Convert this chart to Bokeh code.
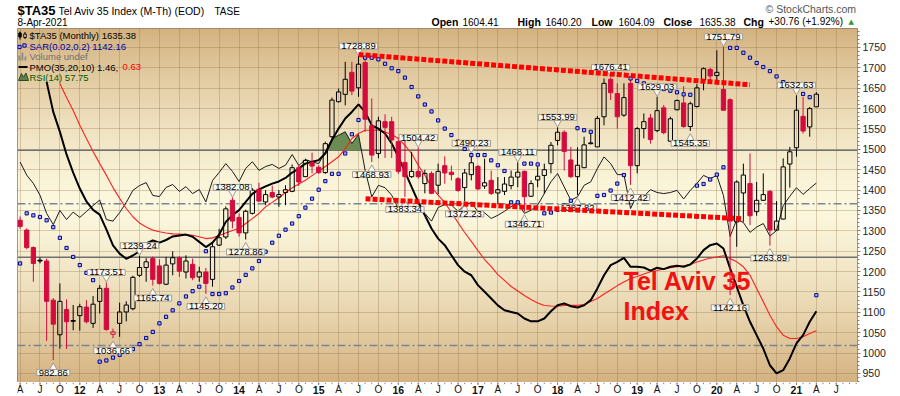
import numpy as np
from bokeh.plotting import figure
from bokeh.layouts import column
from bokeh.models import Range1d, FixedTicker, Span, Label, ColumnDataSource, Grid
from bokeh.core.properties import value
from bokeh.embed import file_html
from bokeh.resources import INLINE

nan = float("nan")

# ---------------- data (monthly, index 0 = Apr 2011 ... 120 = Apr 2021) ----------------
months = list(range(121))
open_ = [1326,1302,1259,1228,1226,1130,1045,1107,1078,1092,
         1113,1073,1127,1159,1046,1073,1101,1109,1191,1210,
         1232,1214,1169,1219,1234,1199,1218,1187,1199,1181,
         1265,1285,1375,1333,1295,1343,1402,1371,1394,1383,
         1394,1397,1455,1433,1468,1456,1443,1531,1617,1635,
         1689,1651,1713,1558,1490,1568,1568,1519,1468,1433,
         1446,1416,1441,1412,1460,1444,1428,1406,1438,1458,
         1410,1424,1393,1397,1411,1432,1446,1385,1425,1436,
         1465,1522,1542,1474,1433,1455,1514,1506,1580,1672,
         1637,1584,1662,1460,1551,1577,1546,1602,1520,1597,
         1614,1556,1605,1670,1696,1681,1647,1622,1322,1393,
         1416,1347,1375,1397,1302,1329,1464,1504,1581,1555,
         1604.41]
high = [1335,1306,1262,1235,1232,1135,1171,1132,1118,1121,
        1130,1140,1167,1173.51,1060,1124,1127,1190,1239.24,1233,
        1237,1230,1236,1250,1238,1240,1232,1212,1209,1273,
        1305,1360,1382.08,1343,1352,1405,1418,1400,1411,1400,
        1412,1463,1461,1477,1492,1461,1519,1627,1649,1715,
        1715,1728.89,1727,1625,1580,1586,1580,1530,1527,1494,
        1504.42,1450,1446,1465,1483,1460,1432,1452,1490.23,1462,
        1477,1448,1432,1432,1448,1468.11,1448,1424,1458,1465,
        1518,1553.99,1547,1506,1505,1531,1543,1582,1674,1676.41,
        1662,1662,1674,1555,1588,1587,1629.03,1609,1580,1622,
        1655,1617,1660,1701,1700,1743,1751.79,1625,1424,1465,
        1490,1420,1441,1400,1373,1478,1506,1632.63,1629,1604,
        1640.20]
low = [1305,1255,1175,1220,1030,982.86,1011,1010,1056,1055,
       1073,1062,1097,1055,1036.66,1040,1078,1105,1187,1175,
       1165.74,1168,1167,1191,1187,1183,1179,1175,1145.20,1163,
       1263,1280,1306,1286,1278.86,1340,1372,1363,1380,1359,
       1363,1395,1410,1432,1441,1440,1440,1527,1615,1608,
       1633,1629,1543,1468.93,1478,1479,1479,1440,1383.34,1430,
       1428,1392,1390,1390,1416,1424,1396,1372.23,1424,1400,
       1403,1388,1366,1388,1402,1407,1346.71,1383,1407,1391,
       1441,1510,1448,1430,1387.82,1454,1512,1506,1559,1621,
       1551,1580,1412.42,1441,1527,1514,1542,1537,1518,1596,
       1553,1545.35,1603,1645,1662,1666,1596,1142.16,1261,1322,
       1314,1337,1373,1263.89,1300,1328,1406,1482,1539,1531,
       1604.09]
close = [1311,1259,1220,1226,1127,1071,1127,1077,1080,1114,
         1077,1120,1159,1058,1052,1101,1118,1186,1210,1224,
         1181,1171,1216,1234,1201,1226,1185,1199,1171,1261,
         1283,1354,1324,1295,1348,1400,1373,1389,1383,1389,
         1401,1455,1420,1473,1459,1443,1514,1621,1641,1672,
         1643,1709,1574,1486,1570,1554,1523,1446,1433,1446,
         1433,1441,1392,1446,1442,1438,1399,1442,1467,1403,
         1418,1392,1401,1415,1432,1444,1384,1416,1434,1450,
         1510,1542,1495,1433,1461,1511,1516,1576,1662,1639,
         1580,1627,1460,1551,1568,1524,1595,1541,1575,1620,
         1556,1612,1651,1698,1680,1689,1596,1324,1420,1437,
         1337,1375,1389,1302,1324,1457,1494,1596,1545,1600,
         1635.38]
prior_close = 1330.0
sar = [1220,1343,1338,1334,1326,1309,1283,1258,1236,1216,
       1197,1179,979,982,989,996,1003,1010,1022,1037,
       1052,1073,1089,1105,1122,1139,1152,1163,1250,1145,
       1145,1147,1161,1177,1192,1208,1226,1249,1271,1288,
       1303,1318,1336,1357,1379,1401,1422,1440,1440,1490,
       1537,1572,1725,1725,1721,1710,1699,1692,1676,1653,
       1630,1610,1593,1571,1551,1535,1519,1501,1486,1486,
       1486,1473,1461,1447,1370,1370,1465,1465,1463,1343,
       1345,1352,1362,1374,1552,1547,1543,1386,1388,1399,
       1416,1437,1674,1668,1662,1657,1652,1648,1644,1640,
       1635,1634,1411,1415,1426,1438,1456,1749,1749,1737,
       1725,1712,1702,1692,1679,1665,1654,1646,1636,1628,
       1142.16]
rsi = [65.6,60.7,57.6,53.2,46.4,42.2,47.5,44.1,46.9,44.9,
       47.1,49.3,51.4,44.1,43.5,46.7,50.5,55.0,56.8,57.9,
       53.1,52.7,56.1,57.2,54.6,56.4,53.8,55.3,50.7,58.7,
       61.7,65.0,62.1,58.3,63.2,65.7,62.5,63.9,64.7,63.2,
       64.4,68.4,64.3,66.5,65.7,65.0,69.4,74.4,75.6,76.9,
       72.5,75.9,62.5,52.6,56.9,56.0,53.2,48.2,47.6,48.9,
       48.2,46.4,43.5,48.6,49.7,49.5,47.2,49.5,50.5,47.0,
       46.6,44.5,45.7,47.2,48.9,50.5,46.4,47.6,49.5,53.8,
       58.2,61.3,56.3,51.3,52.6,56.9,58.2,63.2,67.5,65.0,
       60.9,60.9,48.2,53.5,52.7,55.3,54.2,53.8,54.2,55.0,
       51.8,55.0,57.6,60.6,59.4,60.6,53.1,37.8,44.1,43.0,
       39.3,41.3,42.6,37.9,40.0,49.3,52.8,56.0,53.5,55.7,
       57.75]
pmo = [nan,nan,nan,nan,11.22,9.94,9.09,8.13,7.36,6.68,
       6.13,5.77,5.57,4.94,4.26,3.91,3.69,3.83,4.01,4.34,
       4.47,4.38,4.49,4.64,4.68,4.72,4.63,4.41,4.19,4.38,
       4.72,5.26,5.54,5.76,6.11,6.45,6.64,6.77,6.89,6.98,
       7.13,7.36,7.53,7.74,7.82,7.89,8.17,8.74,9.23,9.66,
       9.94,10.26,9.94,9.37,9.23,9.02,8.60,8.03,7.39,6.75,
       6.11,5.54,4.98,4.55,4.27,3.84,3.42,3.14,2.99,2.57,
       2.29,2.00,1.71,1.50,1.43,1.36,1.15,1.03,1.03,1.15,
       1.46,1.71,1.79,1.67,1.62,1.71,1.93,2.43,2.99,3.42,
       3.56,3.73,3.35,3.35,3.32,3.19,3.31,3.25,3.35,3.39,
       3.35,3.45,3.70,4.06,4.27,4.34,4.13,3.28,2.50,1.71,
       1.01,0.44,-0.13,-0.84,-1.19,-1.05,-0.55,0.09,0.44,1.01,
       1.46]
pmo_signal = [nan,nan,nan,nan,nan,nan,11.15,10.55,10.00,9.37,
              8.81,8.26,7.74,7.25,6.72,6.26,5.83,5.48,5.21,5.04,
              4.91,4.84,4.79,4.75,4.74,4.72,4.69,4.63,4.55,4.58,
              4.68,4.79,4.89,4.98,5.19,5.40,5.62,5.90,6.09,6.29,
              6.51,6.71,6.87,7.03,7.23,7.42,7.62,7.82,8.03,8.38,
              8.81,9.02,9.16,9.16,9.16,9.09,8.98,8.81,8.52,8.17,
              7.67,7.25,6.75,6.40,6.09,5.66,5.23,4.81,4.43,4.04,
              3.66,3.36,3.02,2.77,2.51,2.32,2.13,1.96,1.81,1.70,
              1.68,1.67,1.70,1.71,1.71,1.74,1.87,2.00,2.19,2.36,
              2.55,2.70,2.85,2.94,3.04,3.14,3.19,3.26,3.31,3.35,
              3.39,3.45,3.55,3.64,3.72,3.77,3.82,3.70,3.56,3.35,
              2.99,2.43,1.86,1.29,0.80,0.44,0.30,0.30,0.37,0.51,
              0.63]

price_ticks = list(range(950, 1751, 50))
tick_months = list(range(0, 124, 3))
tick_text = ["A","J","O","12","A","J","O","13","A","J","O","14","A","J","O","15",
             "A","J","O","16","A","J","O","17","A","J","O","18","A","J","O","19",
             "A","J","O","20","A","J","O","21","A","J"]

ann_month = [5, 13, 14, 18, 20, 28, 32, 34, 51, 53, 58, 60, 67, 68, 75, 76, 81, 84,
             89, 92, 96, 101, 106, 107, 113, 117]
ann_value = [982.86, 1173.51, 1036.66, 1239.24, 1165.74, 1145.20, 1382.08, 1278.86,
             1728.89, 1468.93, 1383.34, 1504.42, 1372.23, 1490.23, 1468.11, 1346.71,
             1553.99, 1387.82, 1676.41, 1412.42, 1629.03, 1545.35, 1751.79, 1142.16,
             1263.89, 1632.63]
ann_above = [0,1,0,1,0,0,1,0,1,0,0,1,0,1,1,0,1,0,1,0,1,0,1,0,0,1]

trend_upper_x = [51.0, 110.0]
trend_upper_y = [1732.8, 1658.5]
trend_lower_x = [52.06, 109.0]
trend_lower_y = [1378.7, 1329.6]

# ---------------- layout constants ----------------
WIN_W = 900
HDR_H, MAIN_H, FTR_H = 28, 354, 14
BL, BR = 17, 43
FW = WIN_W - BL - BR
X0, X1 = -0.39, 126.2
Y1 = 1796.6
Y0 = Y1 - MAIN_H / 0.4075
PPX = (X1 - X0) / FW
PPY = (Y1 - Y0) / MAIN_H
FONT = "Liberation Sans"
RED = "#D40B3C"
TICK_COL = "#8C7B6B"


def fx(page_x):
    return X0 + (page_x - BL) * PPX


def fy(page_y):
    return Y1 - (page_y - HDR_H) * PPY


# ================= main chart =================
p = figure(width=WIN_W, height=MAIN_H, output_backend="svg", toolbar_location=None, tools="",
           title=None, x_range=Range1d(X0, X1), y_range=Range1d(Y0, Y1),
           x_axis_location=None, y_axis_location="right",
           min_border_left=BL, min_border_right=BR, min_border_top=0, min_border_bottom=0)
p.extra_y_ranges = {"rsi": Range1d(-16.8, 115.5), "pmo": Range1d(-1.574, 13.49)}
p.border_fill_color = "white"
p.outline_line_color = TICK_COL
p.grid.visible = False

# background gradient
N = 240
t = (np.arange(N) + 0.5) / N
ref_y = (HDR_H + MAIN_H) - t * MAIN_H
d = np.clip(np.abs(ref_y - 205) / 177.0, 0, 1)
f = d ** 1.4
light = np.array([252, 248, 222.0])
dark = np.array([212, 178, 128.0])
rgb = light[None, :] * (1 - f[:, None]) + dark[None, :] * f[:, None]
img = np.empty((N, 1), dtype=np.uint32)
view = img.view(dtype=np.uint8).reshape((N, 1, 4))
for k in range(3):
    view[:, 0, k] = rgb[:, k].astype(np.uint8)
view[:, 0, 3] = 255
p.image_rgba(image=[img], x=X0, y=Y0, dw=X1 - X0, dh=Y1 - Y0, level="image")

# grid
p.add_layout(Grid(dimension=0, ticker=FixedTicker(ticks=tick_months),
                  grid_line_color="#8B6B40", grid_line_alpha=0.3))
p.add_layout(Grid(dimension=1, ticker=FixedTicker(ticks=price_ticks),
                  grid_line_color="#8B6B40", grid_line_alpha=0.3))

# right price axis
ya = p.yaxis[0]
ya.ticker = FixedTicker(ticks=price_ticks, minor_ticks=list(range(930, 1800, 10)))
ya.major_label_text_font = FONT
ya.major_label_text_font_size = "10.5px"
ya.major_label_text_color = "#222222"
ya.major_label_standoff = 2
ya.axis_line_color = None
ya.major_tick_out = 3
ya.major_tick_in = 0
ya.minor_tick_out = 2
ya.minor_tick_in = 0
ya.major_tick_line_color = TICK_COL
ya.minor_tick_line_color = TICK_COL

# reference lines (RSI 70/50/30, PMO zero)
for loc, rng, dash, col in [(70, "rsi", "solid", "#707070"), (30, "rsi", "solid", "#707070"),
                            (50, "rsi", "8 3 2 3", "#7C8494"), (0, "pmo", "8 3 2 3", "#7C8494")]:
    p.add_layout(Span(location=loc, dimension="width", y_range_name=rng, line_color=col,
                      line_width=1.4, line_dash=dash, level="underlay"))

# RSI overbought fill + indicator lines
fine_x = np.linspace(0, 120, 2401)
fine_r = np.interp(fine_x, months, rsi)
p.varea(x=fine_x, y1=np.full_like(fine_x, 70.0), y2=np.maximum(fine_r, 70.0),
        y_range_name="rsi", fill_color="#6A8C52", fill_alpha=1.0)
p.line(months, rsi, y_range_name="rsi", line_color="#1a1a1a", line_width=1)
p.line(months, pmo_signal, y_range_name="pmo", line_color="#FF2020", line_width=1.1)
p.line(months, pmo, y_range_name="pmo", line_color="black", line_width=2)

# candles
prevs = [prior_close] + close[:-1]
colors = [RED if c < pc else "black" for c, pc in zip(close, prevs)]
hollow = [c >= o for o, c in zip(open_, close)]
btop = [max(o, c) for o, c in zip(open_, close)]
bbot = [min(o, c) for o, c in zip(open_, close)]
cs = ColumnDataSource(dict(x=months, high=high, low=low, top=btop, bot=bbot, col=colors,
                           fa=[0.0 if h else 1.0 for h in hollow]))
p.segment(x0="x", y0="high", x1="x", y1="top", line_color="col", line_width=1, source=cs)
p.segment(x0="x", y0="bot", x1="x", y1="low", line_color="col", line_width=1, source=cs)
p.vbar(x="x", width=0.64, top="top", bottom="bot", fill_color="col", fill_alpha="fa",
       line_color="col", line_width=1, source=cs)

# parabolic SAR
p.scatter(months, sar, marker="square", size=3.2, line_color="#00008B",
          fill_color="#A8B4FF", line_width=1)

# price annotations
a_box_y = [v + 10 * PPY if a else v - 12.5 * PPY for v, a in zip(ann_value, ann_above)]
a_ptr_y = [v + 5 * PPY if a else v - 7.5 * PPY for v, a in zip(ann_value, ann_above)]
a_mark = ["inverted_triangle" if a else "triangle" for a in ann_above]
asrc = ColumnDataSource(dict(x=ann_month, by=a_box_y, py=a_ptr_y, m=a_mark,
                             t=["%.2f" % v for v in ann_value]))
p.scatter(x="x", y="py", marker="m", size=8, fill_color="#FBF9F2", line_color="#A39B90",
          line_width=1, source=asrc)
p.text(x="x", y="by", text="t", source=asrc, text_font=value(FONT), text_font_size="9.5px",
       text_color="black", text_align="center", text_baseline="middle",
       background_fill_color="#FBF9F2", border_line_color="#A39B90", border_line_width=1,
       padding=(2, 0))

# trend lines
p.line(trend_upper_x, trend_upper_y, line_color="#FF0000", line_width=5, line_dash="5 2")
p.line(trend_lower_x, trend_lower_y, line_color="#FF0000", line_width=5, line_dash="5 2")

# legend icons (inside the frame, top-left)
p.segment(x0=[fx(19.5), fx(24.5)], y0=[fy(31), fy(31.5)], x1=[fx(19.5), fx(24.5)],
          y1=[fy(39), fy(38.5)], line_color="black", line_width=1)
p.quad(left=[fx(18.3), fx(23.3)], right=[fx(20.7), fx(25.7)], top=[fy(32.5), fy(33.5)],
       bottom=[fy(36.5), fy(37)], fill_color=["black", "#F4EBD0"], line_color="black")
p.scatter([fx(19), fx(24)], [fy(46.5), fy(45)], marker="square", size=3.2,
          line_color="#00008B", fill_color="#A8B4FF")
p.quad(left=[fx(18), fx(21), fx(24)], right=[fx(19.8), fx(22.8), fx(25.8)],
       top=[fy(55), fy(52), fy(56)], bottom=[fy(60)] * 3, fill_color="#8A8A8A", line_color=None)
p.segment(x0=[fx(18)], y0=[fy(66.5)], x1=[fx(27)], y1=[fy(66.5)], line_color="black",
          line_width=2)
p.patch([fx(18), fx(21), fx(23), fx(25.5), fx(28)],
        [fy(80), fy(73), fy(76.5), fy(72.5), fy(80)], fill_color="#5E8048",
        line_color="#2E4A22", line_width=1)

# legend texts
for txt, px, py, col in [("$TA35 (Monthly) 1635.38", 29, 35, "black"),
                         ("SAR(0.02,0.2) 1142.16", 29, 45.8, "#0000A0"),
                         ("Volume undef", 29, 56.4, "#707070"),
                         ("PMO(35,20,10) 1.46,", 29, 66.5, "black"),
                         ("0.63", 122, 66.5, "#FF0000"),
                         ("RSI(14) 57.75", 29, 76.5, "#005A00")]:
    p.add_layout(Label(x=fx(px), y=fy(py), text=txt, text_font=FONT, text_font_size="9.5px",
                       text_color=col, text_baseline="middle"))

# big red caption
for txt, py in [("Tel Aviv 35", 266), ("Index", 296)]:
    p.add_layout(Label(x=fx(623), y=fy(py), text=txt, text_font=FONT,
                       text_font_size="25px", text_font_style="bold", text_color="#F21212",
                       text_baseline="top"))

# ================= header strip (frame aligned with main frame; x = page pixels) ==========
hd = figure(width=WIN_W, height=HDR_H, output_backend="svg", toolbar_location=None, tools="",
            title=None, x_range=Range1d(BL, WIN_W - BR), y_range=Range1d(HDR_H, 0),
            x_axis_location=None, y_axis_location=None, min_border_left=BL,
            min_border_right=BR, min_border_top=0, min_border_bottom=0)
hd.grid.visible = False
hd.outline_line_color = None
hd.background_fill_color = "white"
hd.border_fill_color = "white"
hdr = [("$TA35", 17, 10, "13px", "bold", "black"),
       ("Tel Aviv 35 Index (M-Th) (EOD)", 58, 10.5, "10.5px", "normal", "black"),
       ("TASE", 214, 10.5, "10px", "normal", "black"),
       ("8-Apr-2021", 17, 21.5, "10px", "normal", "black"),
       ("Open", 431, 21, "10.5px", "bold", "black"),
       ("1604.41", 462, 21, "10px", "normal", "black"),
       ("High", 517, 21, "10.5px", "bold", "black"),
       ("1640.20", 545, 21, "10px", "normal", "black"),
       ("Low", 591, 21, "10.5px", "bold", "black"),
       ("1604.09", 618, 21, "10px", "normal", "black"),
       ("Close", 663, 21, "10.5px", "bold", "black"),
       ("1635.38", 699, 21, "10px", "normal", "black"),
       ("Chg", 743, 21, "10.5px", "bold", "black"),
       ("+30.76 (+1.92%)", 768, 21, "10px", "normal", "black"),
       ("\u00a9 StockCharts.com", 765, 8.5, "10.5px", "normal", "#555555")]
for txt, px, py, size, style, col in hdr:
    hd.text(x=[px], y=[py], text=[txt], text_font=value(FONT), text_font_size=size,
            text_font_style=style, text_color=col, text_baseline="middle",
            text_align="left")
hd.text(x=[848], y=[21], text=["\u25b2"], text_font=value("DejaVu Sans"), text_font_size="7px",
        text_color="#2A9A2A", text_baseline="middle", text_align="left")

# ================= footer (month / year labels) =================
ft = figure(width=WIN_W, height=FTR_H, output_backend="svg", toolbar_location=None, tools="",
            title=None, x_range=p.x_range, y_range=Range1d(FTR_H, 0),
            x_axis_location=None, y_axis_location=None, min_border_left=BL,
            min_border_right=BR, min_border_top=0, min_border_bottom=0)
ft.grid.visible = False
ft.outline_line_color = None
ft.background_fill_color = "white"
ft.border_fill_color = "white"
minor = list(range(0, 127))
ft.segment(x0=minor, y0=[0] * len(minor), x1=minor, y1=[1.6] * len(minor),
           line_color=TICK_COL, line_width=1)
ft.segment(x0=tick_months, y0=[0] * len(tick_months), x1=tick_months,
           y1=[2.5] * len(tick_months), line_color=TICK_COL, line_width=1)
letters = [(m, s) for m, s in zip(tick_months, tick_text) if not s.isdigit()]
years = [(m, s) for m, s in zip(tick_months, tick_text) if s.isdigit()]
for items, style, size in [(letters, "normal", "10px"), (years, "bold", "10.5px")]:
    ft.text(x=[m for m, _ in items], y=[7.0] * len(items), text=[s for _, s in items],
            text_font=value(FONT), text_font_size=size, text_font_style=style,
            text_color="#111111", text_align="center", text_baseline="middle")

layout = column(hd, p, ft, spacing=0)
open("out.html", "w").write(file_html(layout, INLINE))
